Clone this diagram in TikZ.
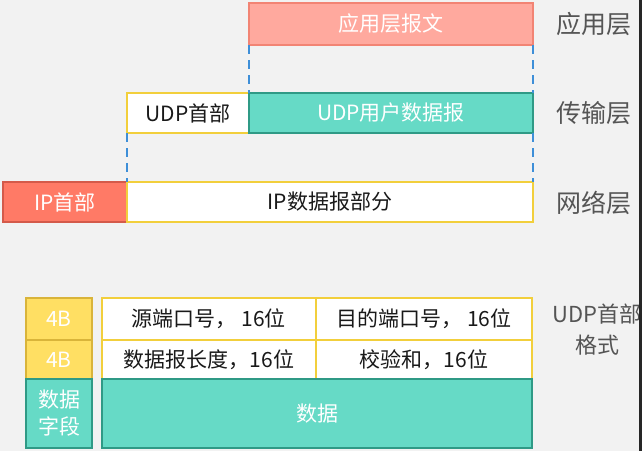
\documentclass[tikz,border=0pt]{standalone}
\usepackage{fontspec}
\setmainfont{Noto Sans CJK SC}
\usetikzlibrary{positioning}
\definecolor{UdpBack}{HTML}{F2F2F2}
\definecolor{UdpSalmon}{HTML}{FFA99E}
\definecolor{UdpSalmonEdge}{HTML}{F28474}
\definecolor{UdpRed}{HTML}{FF7A66}
\definecolor{UdpRedEdge}{HTML}{D45A4A}
\definecolor{UdpTeal}{HTML}{66DAC6}
\definecolor{UdpTealEdge}{HTML}{2F9A86}
\definecolor{UdpYellow}{HTML}{FFDF63}
\definecolor{UdpYellowEdge}{HTML}{F2CF3C}
\definecolor{UdpGold}{HTML}{D9B43A}
\definecolor{UdpBlue}{HTML}{3E8FD8}
\definecolor{UdpGray}{HTML}{555555}
\tikzset{
  cell/.style={rectangle, anchor=north west, inner sep=0pt, outer sep=0pt,
               line width=1.3pt, align=center, font=\fontsize{21}{27}\selectfont},
  appbox/.style={cell, draw=UdpSalmonEdge, fill=UdpSalmon, text=white},
  tealbox/.style={cell, draw=UdpTealEdge, fill=UdpTeal, text=white},
  whitebox/.style={cell, draw=UdpYellowEdge, fill=white, text=black!90},
  redbox/.style={cell, draw=UdpRedEdge, fill=UdpRed, text=white},
  sizebox/.style={cell, draw=UdpGold, fill=UdpYellow, text=white},
  layer/.style={font=\fontsize{25}{28}\selectfont, text=UdpGray, align=center},
  guide/.style={dashed, dash pattern=on 9pt off 6pt, line width=1.3pt, UdpBlue},
}
\begin{document}
\begin{tikzpicture}[x=1pt, y=-1pt]
  \fill[UdpBack] (0,0) rectangle (642,451);
  \useasboundingbox (0,0) rectangle (642,451);

  % encapsulation
  \node[appbox, minimum width=284pt, minimum height=42pt] (app) at (249,3) {应用层报文};
  \node[whitebox, minimum width=122pt, minimum height=40pt] (udphdr) at (127,93) {UDP首部};
  \node[tealbox, minimum width=284pt, minimum height=40pt] (udpdata) at (249,93) {UDP用户数据报};
  \node[redbox, minimum width=124pt, minimum height=40pt] (iphdr) at (3,182) {IP首部};
  \node[whitebox, minimum width=406pt, minimum height=40pt] (ipdata) at (127,182) {IP数据报部分};

  \draw[guide] (app.south west) -- (udpdata.north west);
  \draw[guide] (app.south east) -- (udpdata.north east);
  \draw[guide] (udphdr.south west) -- (ipdata.north west);
  \draw[guide] (udpdata.south east) -- (ipdata.north east);

  \node[layer] (lapp) at (594,24) {应用层};
  \node[layer] (ltrans) at (594,113) {传输层};
  \node[layer] (lnet) at (594,203) {网络层};

  % header format
  \node[sizebox, minimum width=66pt, minimum height=42pt] (rowa) at (26,298) {4B};
  \node[sizebox, minimum width=66pt, minimum height=39pt] (rowb) at (26,340) {4B};
  \node[tealbox, minimum width=66pt, minimum height=69pt] (rowc) at (26,379) {数据\\字段};

  \node[whitebox, minimum width=214pt, minimum height=42pt] (srcport) at (102,298) {源端口号， 16位};
  \node[whitebox, minimum width=216pt, minimum height=42pt] (dstport) at (316,298) {目的端口号， 16位};
  \node[whitebox, minimum width=214pt, minimum height=39pt] (length) at (102,340) {数据报长度，16位};
  \node[whitebox, minimum width=216pt, minimum height=39pt] (checksum) at (316,340) {校验和，16位};
  \node[tealbox, minimum width=430pt, minimum height=69pt] (payload) at (102,379) {数据};

  \node[layer, font=\fontsize{22}{31}\selectfont] (lfmt) at (597,330) {UDP首部\\格式};

  \fill[black!85] (639,0) rectangle (642,451);
\end{tikzpicture}
\end{document}
